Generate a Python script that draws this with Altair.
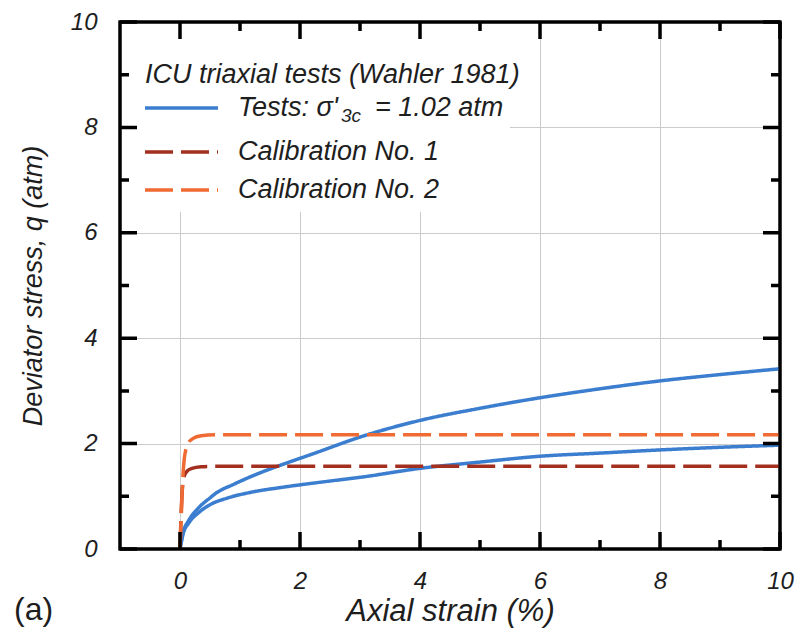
import altair as alt
import pandas as pd

# ---- data -----------------------------------------------------------------
# Two ICU triaxial tests (Wahler 1981), sigma'_3c = 1.02 atm
test_a_strain = [0, 0.05, 0.15, 0.3, 0.5, 0.6, 0.9, 1.3, 1.7, 2.2, 3.1, 4.0, 5.0, 6.0, 7.0, 8.0, 9.0, 10.0]
test_a_q = [0, 0.3, 0.55, 0.77, 0.97, 1.06, 1.23, 1.43, 1.6, 1.8, 2.16, 2.44, 2.67, 2.87, 3.04, 3.19, 3.31, 3.42]

test_b_strain = [0, 0.05, 0.15, 0.3, 0.5, 0.8, 1.2, 1.7, 2.5, 3.0, 4.0, 5.0, 6.0, 7.0, 8.0, 9.0, 10.0]
test_b_q = [0, 0.28, 0.5, 0.68, 0.84, 0.97, 1.08, 1.17, 1.29, 1.36, 1.53, 1.65, 1.76, 1.82, 1.88, 1.93, 1.97]

# Model calibrations
cal1_strain = [0, 0.02, 0.04, 0.07, 0.12, 0.2, 0.35, 0.6, 10.0]
cal1_q = [0, 0.7, 1.15, 1.38, 1.48, 1.53, 1.56, 1.57, 1.57]

cal2_strain = [0, 0.02, 0.04, 0.07, 0.1, 0.15, 0.22, 0.35, 0.6, 10.0]
cal2_q = [0, 0.6, 1.2, 1.7, 1.9, 2.03, 2.1, 2.15, 2.17, 2.17]

series_names = ["Tests", "Calibration No. 1", "Calibration No. 2"]
series_colors = ["#3b7dcf", "#a32f1f", "#f06a33"]

x_range = [-1, 10]
y_range = [0, 10]
major_ticks = [0, 2, 4, 6, 8, 10]
minor_ticks = [1, 3, 5, 7, 9]

W, H = 660, 527
FONT = "Liberation Sans"
TXT = "#1e1e1e"

# ---- long table: curves -----------------------------------------------------
rows = []
for curve, series, xs, ys in [
    ("test_a", "Tests", test_a_strain, test_a_q),
    ("test_b", "Tests", test_b_strain, test_b_q),
    ("cal1", "Calibration No. 1", cal1_strain, cal1_q),
    ("cal2", "Calibration No. 2", cal2_strain, cal2_q),
]:
    for i, (x, y) in enumerate(zip(xs, ys)):
        rows.append({"curve": curve, "series": series, "idx": i, "strain": x, "q": y})

# ---- inward frame ticks as short two-point segments --------------------------
# lengths in pixels, converted to data units of each axis
MAJ_PX, MIN_PX = 17, 9
px_x = (x_range[1] - x_range[0]) / W
px_y = (y_range[1] - y_range[0]) / H
n = 0
for vals, L in [(major_ticks, MAJ_PX), (minor_ticks, MIN_PX)]:
    for v in vals:
        for (x0, y0), (x1, y1) in [
            ((v, y_range[0]), (v, y_range[0] + L * px_y)),            # bottom
            ((v, y_range[1] - L * px_y), (v, y_range[1])),            # top
            ((x_range[0], v), (x_range[0] + L * px_x, v)),            # left
            ((x_range[1] - L * px_x, v), (x_range[1], v)),            # right
        ]:
            rows.append({"curve": f"tick{n}", "series": "axis", "idx": 0, "strain": x0, "q": y0})
            rows.append({"curve": f"tick{n}", "series": "axis", "idx": 1, "strain": x1, "q": y1})
            n += 1
df = pd.DataFrame(rows)

x_enc = alt.X(
    "strain:Q",
    scale=alt.Scale(domain=x_range, nice=False, zero=False),
    axis=alt.Axis(
        values=major_ticks, format="d", ticks=False, domain=False,
        grid=True, gridColor="#cbcbcb", gridWidth=1,
        labelFont=FONT, labelFontStyle="italic", labelFontSize=24,
        labelColor=TXT, labelPadding=20, labelFlush=False,
        title="Axial strain (%)", titleFont=FONT, titleFontStyle="italic",
        titleFontWeight="normal", titleFontSize=31, titleColor=TXT,
        titleX=330, titleY=62, titleAlign="center", titleBaseline="middle",
    ),
)
y_enc = alt.Y(
    "q:Q",
    scale=alt.Scale(domain=y_range, nice=False),
    axis=alt.Axis(
        values=major_ticks, format="d", ticks=False, domain=False,
        grid=True, gridColor="#cbcbcb", gridWidth=1,
        labelFont=FONT, labelFontStyle="italic", labelFontSize=24,
        labelColor=TXT, labelPadding=23, labelFlush=False,
        title="Deviator stress, q (atm)", titleFont=FONT, titleFontStyle="italic",
        titleFontWeight="normal", titleFontSize=27, titleColor=TXT,
        titleX=-87, titleY=H / 2, titleAlign="center", titleBaseline="middle",
    ),
)

all_series = series_names + ["axis"]
lines = alt.Chart(df).mark_line(interpolate="monotone", strokeCap="butt").encode(
    x=x_enc,
    y=y_enc,
    color=alt.Color("series:N", scale=alt.Scale(domain=all_series, range=series_colors + ["#000000"]), legend=None),
    strokeDash=alt.StrokeDash(
        "series:N",
        scale=alt.Scale(domain=all_series, range=[[1, 0], [28, 8], [28, 8], [1, 0]]),
        legend=None,
    ),
    strokeWidth=alt.StrokeWidth(
        "series:N", scale=alt.Scale(domain=all_series, range=[3.5, 3.5, 3.5, 3.5]), legend=None
    ),
    detail="curve:N",
    order="idx:Q",
)

# ---- legend block (white box over the grid) --------------------------------
one = pd.DataFrame({"k": [0]})
legend_bg = alt.Chart(one).mark_rect(fill="white").encode(
    x=alt.value(2), x2=alt.value(390), y=alt.value(2), y2=alt.value(190)
)

def text(t, x, y, size=27, style="italic", align="left"):
    return alt.Chart(one).mark_text(
        text=t, font=FONT, fontSize=size, fontStyle=style, color=TXT,
        align=align, baseline="middle",
    ).encode(x=alt.value(x), y=alt.value(y))

def swatch(y, color, dash):
    return alt.Chart(one).mark_rule(strokeWidth=3.5, color=color, strokeDash=dash, strokeCap="butt").encode(
        x=alt.value(25), x2=alt.value(98), y=alt.value(y), y2=alt.value(y)
    )

legend = [
    legend_bg,
    text("ICU triaxial tests (Wahler 1981)", 25, 53),
    swatch(86, series_colors[0], [1, 0]),
    text("Tests: σ'", 118, 86),
    text("3c", 221, 94, size=19),
    text("= 1.02 atm", 255, 86),
    swatch(130, series_colors[1], [28, 8]),
    text(series_names[1], 118, 130),
    swatch(168, series_colors[2], [28, 8]),
    text(series_names[2], 118, 168),
]

# plot frame
frame = alt.Chart(one).mark_rect(fill=None, stroke="black", strokeWidth=3).encode(
    x=alt.value(0), x2=alt.value(W), y=alt.value(0), y2=alt.value(H)
)

panel_tag = text("(a)", -106, 588, size=32, style="normal")

chart = alt.layer(*legend, lines, frame, panel_tag).properties(
    width=W,
    height=H,
    padding={"left": 120, "top": 22, "right": 20, "bottom": 88},
    autosize=alt.AutoSizeParams(type="none"),
    background="white",
).configure_view(stroke="black", strokeWidth=3)

chart.save("out.html", embed_options={"renderer": "svg", "actions": False})
